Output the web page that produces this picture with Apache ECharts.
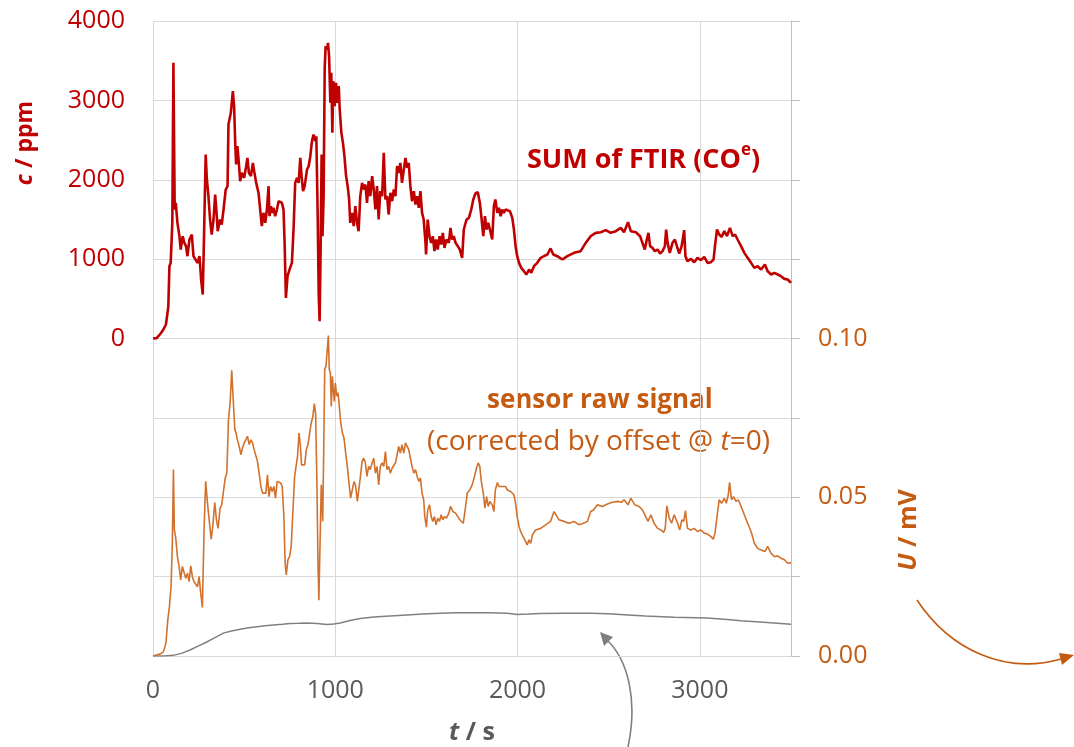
<!DOCTYPE html>
<html>
<head>
<meta charset="utf-8">
<script src="https://cdn.jsdelivr.net/npm/echarts@6/dist/echarts.min.js"></script>
<style>
  html, body { margin: 0; padding: 0; background: #ffffff; }
  #chart { width: 1074px; height: 747px; }
</style>
</head>
<body>
<div id="chart"></div>
<script>
// FTIR sum concentration (ppm) over time (s)
const ftirTime = [0,20,29,42,57,71,79,84,90,97,106,112,119,125,134,145,152,163,172,181,189,200,213,222,231,244,255,264,273,280,289,295,304,313,322,332,341,350,355,368,377,387,399,409,414,427,438,445,451,456,463,471,478,487,500,511,518,526,537,548,555,566,579,588,597,606,616,625,634,639,647,654,661,670,680,689,698,707,716,722,729,738,749,762,771,780,790,799,808,815,823,832,845,854,863,872,881,890,896,903,909,914,920,925,930,936,942,947,955,960,966,973,978,984,989,997,1004,1011,1019,1024,1033,1042,1050,1059,1068,1076,1082,1092,1101,1110,1119,1128,1137,1147,1156,1165,1174,1183,1192,1202,1211,1220,1229,1238,1247,1257,1266,1275,1284,1293,1302,1312,1321,1330,1339,1348,1357,1366,1376,1385,1394,1403,1412,1421,1431,1440,1449,1458,1467,1476,1485,1495,1498,1507,1517,1526,1535,1544,1553,1562,1572,1581,1590,1599,1610,1623,1632,1641,1650,1660,1672,1683,1696,1705,1720,1733,1746,1757,1769,1782,1793,1801,1812,1821,1830,1839,1848,1861,1870,1878,1889,1898,1907,1916,1925,1934,1943,1958,1971,1980,1989,1998,2008,2020,2035,2048,2063,2075,2090,2108,2127,2145,2163,2181,2196,2218,2246,2273,2310,2346,2374,2401,2429,2456,2484,2511,2539,2566,2584,2606,2621,2649,2672,2685,2698,2709,2718,2727,2740,2753,2768,2782,2795,2808,2815,2823,2835,2850,2863,2874,2887,2900,2914,2921,2932,2951,2969,2987,3006,3024,3042,3061,3075,3085,3094,3106,3119,3134,3149,3165,3180,3193,3207,3226,3244,3262,3281,3299,3317,3336,3357,3372,3391,3409,3427,3445,3464,3482,3500];
const ftirPpm = [0,5,8,63,113,176,189,400,911,953,1457,3473,1625,1709,1457,1289,1121,1289,1205,1163,1037,1247,1310,1037,1058,953,1037,743,554,1300,2318,2024,1793,1499,1310,1499,1814,1541,1352,1499,1436,1625,1877,1919,2696,2843,3116,2927,2465,2192,2423,2213,1982,2087,2024,2171,2276,2087,2045,2213,2108,1961,1835,1625,1415,1583,1457,1625,1919,1541,1667,1583,1646,1541,1625,1730,1751,1709,1625,1205,512,785,869,953,1373,1961,2024,1961,2276,2045,1856,1919,2129,2171,2297,2486,2570,2486,2549,1625,575,218,1205,2318,1289,1793,3410,3683,3641,3725,3557,2969,3347,2591,3242,2927,3221,2969,3179,2900,2600,2465,2300,2050,1919,1750,1457,1583,1415,1667,1457,1352,1793,1961,1877,1940,1709,1982,1793,2045,1877,1625,1919,1499,1856,1793,2339,1751,1793,1562,1835,1730,1877,1793,2171,2087,2213,1961,2129,2276,2150,2213,1919,1730,1856,1688,1793,1646,1856,1583,1499,1205,1058,1499,1289,1205,1289,1100,1247,1121,1289,1184,1331,1142,1247,1205,1394,1247,1289,1205,1163,1121,1016,1373,1499,1520,1625,1751,1827,1843,1709,1541,1289,1541,1373,1457,1373,1247,1667,1751,1583,1646,1541,1625,1583,1625,1604,1604,1520,1373,1163,1037,953,890,848,806,869,827,911,953,1016,1037,1058,1134,1058,1037,995,1037,1079,1100,1205,1289,1331,1339,1365,1331,1352,1394,1339,1465,1352,1339,1289,1205,1121,1247,1331,1163,1142,1100,1121,1071,1100,1163,1373,1205,1079,1205,1247,1163,1071,1163,1365,1037,974,1003,961,1016,987,1029,953,961,995,1205,1373,1310,1281,1352,1289,1394,1289,1310,1247,1163,1079,1016,953,890,911,869,932,848,806,827,806,785,751,743,700];

// Sensor raw signal (mV), offset-corrected at t = 0
const sensorTime = [0,38,57,71,81,90,99,106,112,117,125,134,143,152,161,170,180,189,198,207,216,225,234,244,253,262,271,280,289,299,308,319,328,339,348,357,368,377,387,396,405,414,423,432,441,449,456,463,473,482,491,500,509,518,528,537,546,555,564,573,582,592,601,610,619,628,636,645,654,663,672,681,691,700,709,718,725,731,740,749,758,768,777,786,793,801,808,815,823,832,841,850,859,868,877,885,892,899,905,910,918,923,931,936,942,949,956,962,967,973,978,984,989,995,1000,1008,1015,1022,1030,1039,1048,1057,1066,1075,1084,1094,1103,1112,1121,1128,1138,1147,1156,1165,1174,1183,1192,1202,1211,1220,1229,1238,1247,1257,1266,1275,1284,1293,1302,1312,1321,1330,1339,1348,1357,1366,1376,1385,1394,1403,1412,1421,1431,1440,1449,1458,1467,1476,1485,1491,1500,1507,1517,1526,1535,1544,1553,1562,1572,1581,1590,1599,1610,1623,1632,1645,1660,1672,1683,1691,1702,1715,1724,1738,1751,1764,1775,1784,1793,1801,1812,1821,1830,1839,1848,1861,1870,1878,1889,1898,1907,1916,1925,1934,1943,1953,1962,1971,1980,1989,1998,2008,2017,2026,2035,2044,2053,2063,2072,2081,2090,2099,2108,2127,2154,2181,2200,2227,2255,2282,2310,2337,2361,2383,2401,2416,2438,2465,2493,2520,2548,2570,2584,2606,2621,2643,2667,2685,2703,2716,2731,2749,2768,2786,2801,2810,2819,2832,2845,2859,2868,2878,2890,2901,2912,2921,2932,2951,2969,2987,3006,3024,3042,3061,3074,3083,3094,3106,3119,3134,3145,3156,3163,3174,3185,3198,3211,3226,3244,3262,3281,3299,3317,3336,3357,3372,3391,3409,3427,3445,3464,3482,3500];
const sensorMv = [0,0.0006,0.0013,0.0040,0.0113,0.0155,0.0218,0.0355,0.0587,0.0397,0.0371,0.0313,0.0282,0.0240,0.0282,0.0287,0.0245,0.0261,0.0234,0.0284,0.0250,0.0234,0.0240,0.0218,0.0250,0.0197,0.0153,0.0397,0.0550,0.0481,0.0429,0.0368,0.0408,0.0483,0.0429,0.0402,0.0466,0.0476,0.0481,0.0560,0.0576,0.0744,0.0797,0.0900,0.0797,0.0713,0.0702,0.0681,0.0660,0.0634,0.0655,0.0671,0.0681,0.0692,0.0666,0.0681,0.0671,0.0650,0.0644,0.0613,0.0576,0.0534,0.0513,0.0518,0.0513,0.0571,0.0502,0.0534,0.0518,0.0534,0.0497,0.0550,0.0555,0.0545,0.0534,0.0439,0.0292,0.0255,0.0303,0.0313,0.0345,0.0460,0.0566,0.0602,0.0629,0.0702,0.0666,0.0602,0.0597,0.0602,0.0650,0.0666,0.0660,0.0734,0.0755,0.0795,0.0765,0.0555,0.0292,0.0176,0.0397,0.0539,0.0424,0.0629,0.0902,0.0913,0.0965,0.1009,0.0902,0.0892,0.0786,0.0881,0.0839,0.0802,0.0860,0.0818,0.0829,0.0786,0.0734,0.0702,0.0686,0.0639,0.0597,0.0545,0.0497,0.0502,0.0550,0.0534,0.0487,0.0481,0.0566,0.0613,0.0623,0.0608,0.0566,0.0597,0.0587,0.0608,0.0623,0.0576,0.0597,0.0539,0.0597,0.0608,0.0597,0.0644,0.0587,0.0597,0.0576,0.0592,0.0587,0.0608,0.0602,0.0660,0.0639,0.0666,0.0639,0.0671,0.0676,0.0650,0.0623,0.0597,0.0576,0.0587,0.0566,0.0550,0.0560,0.0513,0.0492,0.0439,0.0406,0.0460,0.0476,0.0439,0.0424,0.0439,0.0413,0.0434,0.0424,0.0445,0.0429,0.0439,0.0434,0.0450,0.0471,0.0455,0.0450,0.0439,0.0429,0.0424,0.0418,0.0471,0.0513,0.0523,0.0539,0.0566,0.0592,0.0608,0.0597,0.0550,0.0513,0.0466,0.0502,0.0471,0.0487,0.0476,0.0455,0.0523,0.0546,0.0534,0.0539,0.0534,0.0529,0.0534,0.0523,0.0529,0.0518,0.0523,0.0508,0.0481,0.0439,0.0408,0.0392,0.0381,0.0371,0.0366,0.0350,0.0366,0.0355,0.0381,0.0376,0.0397,0.0392,0.0402,0.0413,0.0424,0.0455,0.0429,0.0424,0.0418,0.0424,0.0413,0.0418,0.0424,0.0455,0.0460,0.0476,0.0471,0.0479,0.0484,0.0487,0.0484,0.0492,0.0476,0.0497,0.0476,0.0471,0.0460,0.0439,0.0424,0.0445,0.0418,0.0402,0.0397,0.0389,0.0402,0.0473,0.0434,0.0418,0.0445,0.0439,0.0418,0.0397,0.0429,0.0424,0.0458,0.0402,0.0397,0.0402,0.0392,0.0397,0.0387,0.0384,0.0376,0.0368,0.0387,0.0439,0.0492,0.0481,0.0497,0.0481,0.0508,0.0547,0.0492,0.0502,0.0487,0.0492,0.0471,0.0445,0.0418,0.0392,0.0355,0.0339,0.0334,0.0329,0.0345,0.0323,0.0313,0.0315,0.0308,0.0303,0.0292,0.0294,0.0284];

// Slow baseline signal (mV)
const baseTime = [0,60,112,160,203,250,295,340,386,430,478,525,570,615,661,710,753,800,844,900,954,990,1027,1080,1137,1211,1300,1393,1480,1577,1660,1760,1850,1943,1998,2060,2126,2250,2401,2500,2584,2700,2860,3040,3150,3225,3350,3500];
const baseMv = [0,0,0.0002,0.0009,0.0019,0.0032,0.0044,0.0058,0.0072,0.0079,0.0084,0.0089,0.0092,0.0095,0.0098,0.0100,0.0102,0.0103,0.0104,0.0102,0.0099,0.0101,0.0104,0.0112,0.0118,0.0123,0.0126,0.0129,0.0132,0.0135,0.0136,0.0136,0.0136,0.0135,0.0131,0.0132,0.0134,0.0135,0.0135,0.0133,0.0130,0.0126,0.0122,0.0120,0.0115,0.0111,0.0106,0.0100];

// Axis tick values
const timeTicks = [0, 1000, 2000, 3000];
const ppmTicks = [0, 1000, 2000, 3000, 4000];
const mvTicks = ['0.00', '0.05', '0.10'];

const zip = (xs, ys) => xs.map((x, i) => [x, ys[i]]);

const FONT = "'Open Sans', 'Liberation Sans', sans-serif";
const RED = '#c00000';
const ORANGE = '#c55a11';
const GRID = '#d9d9d9';

const chart = echarts.init(document.getElementById('chart'), null, { renderer: 'canvas' });

chart.setOption({
  animation: false,
  backgroundColor: '#ffffff',
  grid: { left: 153, right: 283, top: 21, bottom: 91, containLabel: false, outerBoundsMode: 'none' },
  xAxis: {
    type: 'value', min: 0, max: 3500, interval: 1000,
    axisLine: { show: false }, axisTick: { show: false },
    splitLine: { show: true, lineStyle: { color: GRID, width: 1 } },
    axisLabel: {
      color: '#595959', fontSize: 25, fontFamily: FONT, margin: 22,
      showMaxLabel: false,
      formatter: v => timeTicks.includes(v) ? String(v) : ''
    },
    name: '{i|t} / s', nameLocation: 'middle', nameGap: 64,
    nameTextStyle: {
      color: '#595959', fontSize: 25, fontWeight: 'bold', fontFamily: FONT,
      rich: { i: { fontStyle: 'italic', fontWeight: 'bold', fontSize: 25, fontFamily: FONT, color: '#595959' } }
    }
  },
  yAxis: [
    {
      type: 'value', min: -4000, max: 4000, interval: 1000, position: 'left',
      axisLine: { show: false }, axisTick: { show: false },
      splitLine: { show: true, lineStyle: { color: GRID, width: 1 } },
      axisLabel: {
        color: RED, fontSize: 25, fontFamily: FONT, margin: 28,
        formatter: v => ppmTicks.includes(v) ? String(v) : ''
      }
    },
    {
      type: 'value', min: 0, max: 0.2, interval: 0.025, position: 'right',
      axisLine: { show: true, lineStyle: { color: '#bfbfbf', width: 1 } },
      axisTick: { show: true, inside: false, length: 9, lineStyle: { color: '#bfbfbf' } },
      splitLine: { show: false },
      axisLabel: {
        color: ORANGE, fontSize: 25, fontFamily: FONT, margin: 27,
        formatter: v => {
          const k = Math.round(v * 1000);
          return k === 0 ? mvTicks[0] : k === 50 ? mvTicks[1] : k === 100 ? mvTicks[2] : '';
        }
      }
    }
  ],
  series: [
    {
      name: 'baseline', type: 'line', yAxisIndex: 1, showSymbol: false, silent: true,
      data: zip(baseTime, baseMv),
      lineStyle: { color: '#808080', width: 1.5 }, z: 2
    },
    {
      name: 'sensor raw signal', type: 'line', yAxisIndex: 1, showSymbol: false, silent: true,
      data: zip(sensorTime, sensorMv),
      lineStyle: { color: '#d2712c', width: 1.6 }, z: 3
    },
    {
      name: 'SUM of FTIR', type: 'line', yAxisIndex: 0, showSymbol: false, silent: true,
      data: zip(ftirTime, ftirPpm),
      lineStyle: { color: RED, width: 2.6 }, z: 4
    }
  ],
  graphic: [
    {
      type: 'text', x: 25, y: 143, rotation: Math.PI / 2,
      style: {
        text: '{i|c} / ppm', fill: RED, align: 'center', verticalAlign: 'middle',
        fontSize: 23, fontWeight: 'bold', fontFamily: FONT,
        rich: { i: { fontStyle: 'italic', fontWeight: 'bold', fontSize: 23, fontFamily: FONT, fill: RED } }
      }
    },
    {
      type: 'text', x: 909, y: 530, rotation: Math.PI / 2,
      style: {
        text: '{i|U} / mV', fill: ORANGE, align: 'center', verticalAlign: 'middle',
        fontSize: 25, fontWeight: 'bold', fontFamily: FONT,
        rich: { i: { fontStyle: 'italic', fontWeight: 'bold', fontSize: 25, fontFamily: FONT, fill: ORANGE } }
      }
    },
    {
      type: 'text', x: 527, y: 160,
      style: {
        text: '{b|SUM of FTIR (CO}{s|e}{b|)}', fill: RED, align: 'left', verticalAlign: 'middle',
        fontSize: 27, fontWeight: 'bold', fontFamily: FONT,
        rich: {
          b: { fontSize: 27, fontWeight: 'bold', fontFamily: FONT, fill: RED, lineHeight: 36 },
          s: { fontSize: 17, fontWeight: 'bold', fontFamily: FONT, fill: RED, lineHeight: 22, verticalAlign: 'top' }
        }
      }
    },
    {
      type: 'text', x: 487, y: 401,
      style: {
        text: 'sensor raw signal', fill: ORANGE, align: 'left', verticalAlign: 'middle',
        fontSize: 26, fontWeight: 'bold', fontFamily: FONT
      }
    },
    {
      type: 'text', x: 427, y: 442,
      style: {
        text: '(corrected by offset @ {i|t}=0)', fill: ORANGE, align: 'left', verticalAlign: 'middle',
        fontSize: 28, fontFamily: FONT,
        rich: { i: { fontStyle: 'italic', fontSize: 28, fontFamily: FONT, fill: ORANGE } }
      }
    },
    {
      type: 'bezierCurve',
      shape: { x1: 628, y1: 747, cpx1: 638, cpy1: 700, cpx2: 628, cpy2: 660, x2: 607, y2: 640 },
      style: { stroke: '#7f7f7f', lineWidth: 1.6, fill: null }
    },
    {
      type: 'polygon',
      shape: { points: [[600, 632], [613, 637], [604, 646]] },
      style: { fill: '#7f7f7f' }
    },
    {
      type: 'bezierCurve',
      shape: { x1: 917, y1: 600, cpx1: 950, cpy1: 650, cpx2: 1005, cpy2: 675, x2: 1061, y2: 659 },
      style: { stroke: ORANGE, lineWidth: 1.6, fill: null }
    },
    {
      type: 'polygon',
      shape: { points: [[1074, 655], [1059, 653], [1062, 665]] },
      style: { fill: ORANGE }
    }
  ]
});
</script>
</body>
</html>
